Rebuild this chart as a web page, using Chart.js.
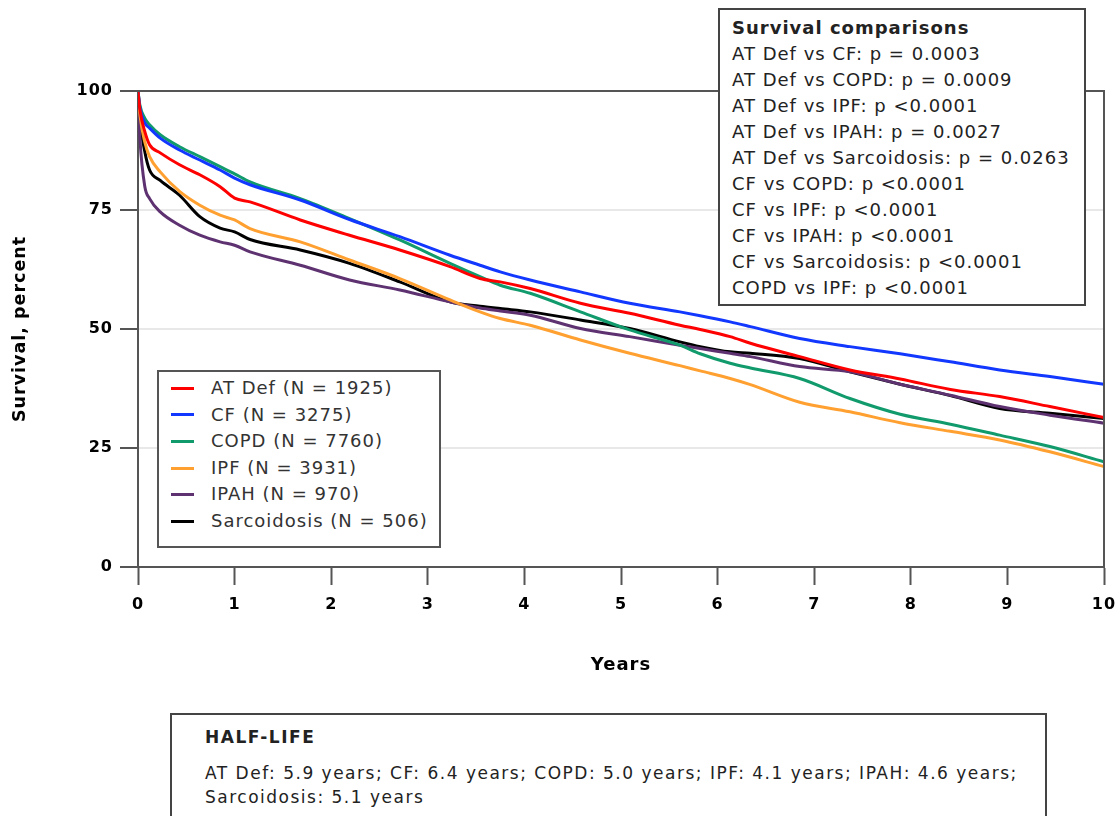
<!DOCTYPE html>
<html lang="en">
<head>
  <meta charset="UTF-8" />
  <title>Survival after lung transplant by diagnosis</title>
  <script src="https://cdn.jsdelivr.net/npm/chart.js"></script>
  <style>
    body { margin: 0; background: #fff; font-family: "DejaVu Sans", Verdana, sans-serif; }
    #wrap { position: relative; width: 1120px; height: 816px; overflow: hidden; }
    .box { position: absolute; background: #fff; border: 2px solid #444; box-sizing: border-box; color: #222; }
    #comparisons { left: 718px; top: 8px; width: 368px; height: 298px; padding: 5px 0 0 12px; font-size: 18px; line-height: 26px; letter-spacing: 1px; }
    #comparisons b { display: block; }
    #legend { left: 157px; top: 370px; width: 284px; height: 178px; padding: 3px 0 0 12px; font-size: 18px; line-height: 26.6px; letter-spacing: 1px; color: #333; border-color: #555; }
    #legend .item { display: flex; align-items: center; white-space: nowrap; }
    #legend .sw { width: 23px; height: 3px; margin-right: 17px; }
    #halflife { left: 170px; top: 713px; width: 877px; height: 130px; padding: 10px 0 0 33px; font-size: 17px; line-height: 24px; letter-spacing: 1.5px; white-space: nowrap; }
    #halflife b { display: block; margin-bottom: 12px; }
  </style>
</head>
<body>
<div id="wrap">
  <canvas id="survChart" width="1120" height="816"></canvas>
  <div id="legend" class="box"></div>
  <div id="comparisons" class="box"></div>
  <div id="halflife" class="box"></div>
</div>

<script>
  // years since transplant (x values shared by all curves)
  const years = [0, 0.02, 0.07, 0.12, 0.23, 0.43, 0.64, 0.85, 1.0, 1.16, 1.68, 2.19, 2.71, 3.23, 3.54, 3.75,
    4.06, 4.58, 5.09, 5.61, 5.82, 6.13, 6.34, 6.85, 7.37, 7.89, 8.41, 8.92, 9.44, 10];

  const atDef = [100, 96, 91.5, 88.7, 87, 84.5, 82.4, 79.9, 77.5, 76.7, 72.9, 69.7, 66.6, 63.1, 60.6, 59.9,
    58.5, 55.4, 53.3, 50.8, 49.9, 48.4, 47.0, 44.2, 41.4, 39.5, 37.3, 35.8, 33.7, 31.4];
  const cf = [100, 96.5, 93.3, 92.2, 90.1, 87.6, 85.5, 83.4, 81.7, 80.3, 77.1, 73.0, 69.4, 65.5, 63.4, 62.0,
    60.3, 57.8, 55.4, 53.6, 52.8, 51.5, 50.5, 48.0, 46.3, 44.8, 43.1, 41.4, 40.0, 38.4];
  const copd = [100, 97, 94.3, 92.9, 90.8, 88.3, 86.2, 84.1, 82.6, 80.9, 77.4, 73.2, 68.7, 63.8, 61.0, 59.2,
    57.5, 53.6, 49.8, 46.6, 44.8, 42.8, 41.8, 39.6, 35.4, 32.1, 30.0, 27.7, 25.3, 22.1];
  const ipf = [100, 95, 89.3, 86.2, 83.0, 78.9, 76.0, 73.9, 72.9, 71.1, 68.3, 64.5, 60.6, 56.1, 53.6, 52.2,
    50.8, 47.7, 44.9, 42.3, 41.2, 39.6, 38.3, 34.6, 32.6, 30.3, 28.5, 26.7, 24.2, 21.1];
  const ipah = [100, 90, 80, 77.4, 74.6, 71.8, 69.7, 68.3, 67.6, 66.2, 63.4, 60.3, 58.2, 55.7, 54.4, 53.8,
    52.9, 50.1, 48.4, 46.6, 45.9, 44.9, 44.2, 42.1, 41.0, 38.4, 36.1, 33.7, 31.9, 30.2];
  const sarcoid = [100, 94, 87.3, 83.4, 81.2, 78.1, 73.6, 71.2, 70.4, 68.8, 66.6, 63.8, 59.9, 55.7, 54.8, 54.3,
    53.6, 51.9, 50.1, 47.3, 46.3, 45.2, 44.9, 43.8, 41.0, 38.4, 36.0, 33.3, 32.3, 31.2];

  const seriesNames = ["AT Def (N = 1925)", "CF (N = 3275)", "COPD (N = 7760)", "IPF (N = 3931)", "IPAH (N = 970)", "Sarcoidosis (N = 506)"];
  const seriesValues = [atDef, cf, copd, ipf, ipah, sarcoid];
  const seriesColors = ["#ff0000", "#1238ff", "#119a6c", "#ffa031", "#5e3271", "#000000"];

  const yTicks = [0, 25, 50, 75, 100];

  const comparisons = [
    "AT Def vs CF: p = 0.0003",
    "AT Def vs COPD: p = 0.0009",
    "AT Def vs IPF: p <0.0001",
    "AT Def vs IPAH: p = 0.0027",
    "AT Def vs Sarcoidosis: p = 0.0263",
    "CF vs COPD: p <0.0001",
    "CF vs IPF: p <0.0001",
    "CF vs IPAH: p <0.0001",
    "CF vs Sarcoidosis: p <0.0001",
    "COPD vs IPF: p <0.0001"
  ];
  const halfLifeLines = [
    "AT Def: 5.9 years; CF: 6.4 years; COPD: 5.0 years; IPF: 4.1 years; IPAH: 4.6 years;",
    "Sarcoidosis: 5.1 years"
  ];

  const fontFamily = '"DejaVu Sans", Verdana, sans-serif';

  // plot frame (top + right edges, the left/bottom are the axis borders)
  const framePlugin = {
    id: "frame",
    beforeDraw(chart) {
      chart.ctx.letterSpacing = "1px"; // the source font is wider than dejavu
    },
    afterDraw(chart) {
      const { ctx, chartArea: a } = chart;
      ctx.save();
      ctx.strokeStyle = "#555";
      ctx.lineWidth = 2;
      ctx.beginPath();
      ctx.moveTo(a.left, a.top);
      ctx.lineTo(a.right, a.top);
      ctx.lineTo(a.right, a.bottom);
      ctx.stroke();
      ctx.restore();
    }
  };

  const ctx = document.getElementById("survChart").getContext("2d");
  const survChart = new Chart(ctx, {
    type: "line",
    data: {
      datasets: seriesNames.map((name, i) => ({
        label: name,
        data: years.map((x, j) => ({ x, y: seriesValues[i][j] })),
        borderColor: seriesColors[i],
        borderWidth: 3,
        pointRadius: 0,
        fill: false,
        cubicInterpolationMode: "monotone"
      }))
    },
    options: {
      responsive: false,
      animation: false,
      layout: { padding: { top: 91, right: 16, bottom: 139, left: 0 } },
      plugins: { legend: { display: false }, tooltip: { enabled: false } },
      scales: {
        x: {
          type: "linear",
          min: 0,
          max: 10,
          afterFit: s => { s.height = 110; s.paddingLeft = 0; s.paddingRight = 0; },
          ticks: { stepSize: 1, padding: 10, color: "#000", font: { family: fontFamily, size: 16, weight: "bold" } },
          grid: { drawOnChartArea: false, tickLength: 18, tickColor: "#555", tickWidth: 2 },
          border: { color: "#555", width: 2 },
          title: { display: true, text: "Years", color: "#000", padding: { top: 0, bottom: 1 },
            font: { family: fontFamily, size: 18, weight: "bold" } }
        },
        y: {
          min: 0,
          max: 100,
          afterFit: s => { s.width = 138; s.paddingTop = 0; s.paddingBottom = 0; },
          afterBuildTicks: s => { s.ticks = yTicks.map(v => ({ value: v })); },
          ticks: { padding: 7, color: "#000", font: { family: fontFamily, size: 16, weight: "bold" } },
          grid: {
            tickLength: 18,
            tickColor: "#555",
            tickWidth: 2,
            lineWidth: 2,
            color: c => (c.tick && (c.tick.value === 0 || c.tick.value === 100)) ? "rgba(0,0,0,0)" : "#e8e8e8"
          },
          border: { color: "#555", width: 2 },
          title: { display: true, text: "Survival, percent", color: "#000", padding: { top: 10, bottom: 0 },
            font: { family: fontFamily, size: 17.5, weight: "bold" } }
        }
      }
    },
    plugins: [framePlugin]
  });

  // legend, comparisons and half-life boxes as html text
  const legendEl = document.getElementById("legend");
  seriesNames.forEach((name, i) => {
    const row = document.createElement("div");
    row.className = "item";
    row.innerHTML = `<span class="sw" style="background:${seriesColors[i]}"></span><span>${name}</span>`;
    legendEl.appendChild(row);
  });

  const compEl = document.getElementById("comparisons");
  compEl.innerHTML = "<b>Survival comparisons</b>" + comparisons.map(t => `<div>${t}</div>`).join("");

  document.getElementById("halflife").innerHTML = "<b>HALF-LIFE</b>" + halfLifeLines.map(t => `<div>${t}</div>`).join("");
</script>
</body>
</html>
